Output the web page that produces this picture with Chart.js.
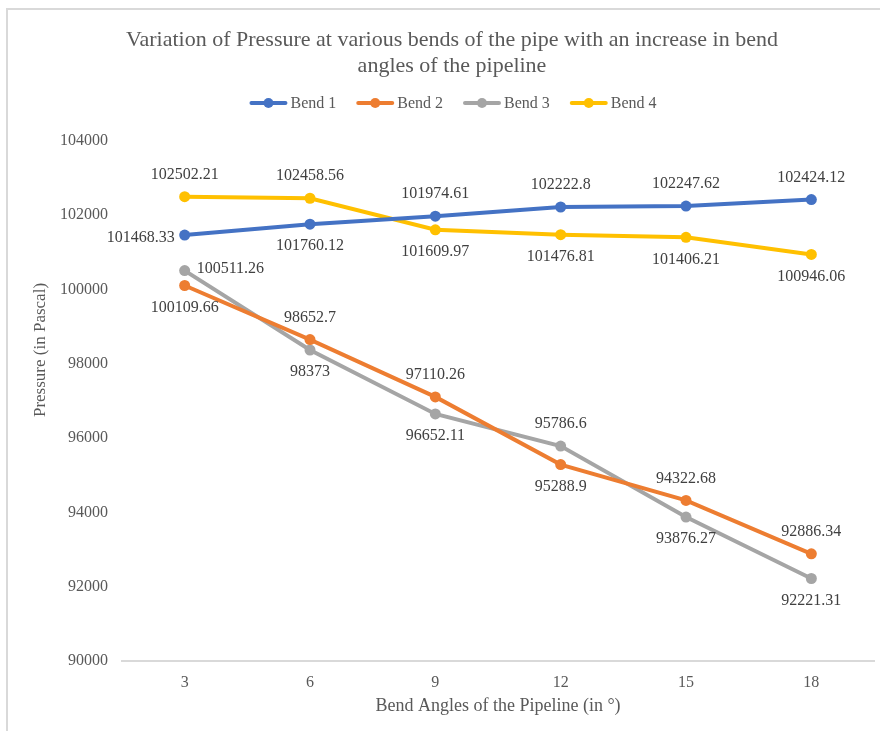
<!DOCTYPE html>
<html>
<head>
<meta charset="utf-8">
<script src="https://cdn.jsdelivr.net/npm/chart.js@4/dist/chart.umd.min.js"></script>
<style>
  html, body { margin:0; padding:0; background:#fff; }
  #wrap { position:relative; width:880px; height:731px; }
  #frame { position:absolute; left:6px; top:8px; right:0; bottom:0; border-left:2px solid #d9d9d9; border-top:2px solid #d9d9d9; pointer-events:none; }
</style>
</head>
<body>
<div id="wrap">
  <canvas id="c" width="880" height="731"></canvas>
  <div id="frame"></div>
</div>
<script>
const categories = ['3', '6', '9', '12', '15', '18'];
const bend1 = [101468.33, 101760.12, 101974.61, 102222.8, 102247.62, 102424.12];
const bend2 = [100109.66, 98652.7, 97110.26, 95288.9, 94322.68, 92886.34];
const bend3 = [100511.26, 98373, 96652.11, 95786.6, 93876.27, 92221.31];
const bend4 = [102502.21, 102458.56, 101609.97, 101476.81, 101406.21, 100946.06];
const seriesNames = ['Bend 1', 'Bend 2', 'Bend 3', 'Bend 4'];
const yTicks = [90000, 92000, 94000, 96000, 98000, 100000, 102000, 104000];
const titleLines = ['Variation of Pressure at various bends of the pipe with an increase in bend', 'angles of the pipeline'];
const xTitle = 'Bend Angles of the Pipeline (in \u00B0)';
const yTitle = 'Pressure (in Pascal)';

// label placement (style)
const labelPlacement = [
  ['left', 'below', 'above', 'above', 'above', 'above'],
  ['below', 'above', 'above', 'below', 'above', 'above'],
  ['right', 'below', 'below', 'above', 'below', 'below'],
  ['above', 'above', 'below', 'below', 'below', 'below']
];
const colors = ['#4472C4', '#ED7D31', '#A5A5A5', '#FFC000'];
const FONT = '"Liberation Serif", "Times New Roman", serif';

const seriesData = [bend1, bend2, bend3, bend4];

const labelPlugin = {
  id: 'customLabels',
  afterDatasetsDraw(chart) {
    const ctx = chart.ctx;
    ctx.save();
    ctx.font = '16px ' + FONT;
    ctx.fillStyle = '#404040';
    chart.data.datasets.forEach((ds, i) => {
      const meta = chart.getDatasetMeta(i);
      meta.data.forEach((pt, j) => {
        const txt = String(ds.data[j]);
        const pos = labelPlacement[i][j];
        let x = pt.x, y = pt.y;
        ctx.textBaseline = 'middle';
        if (pos === 'above') { ctx.textAlign = 'center'; y -= 22; }
        else if (pos === 'below') { ctx.textAlign = 'center'; y += 22; }
        else if (pos === 'left') { ctx.textAlign = 'right'; x -= 10; y += 3; }
        else { ctx.textAlign = 'left'; x += 12; y -= 2; }
        ctx.fillText(txt, x, y);
      });
    });
    ctx.restore();
  },
  afterDraw(chart) {
    const ctx = chart.ctx;
    ctx.save();
    // title
    ctx.fillStyle = '#595959';
    ctx.font = '22px ' + FONT;
    ctx.textAlign = 'center';
    ctx.textBaseline = 'middle';
    ctx.fillText(titleLines[0], 452, 40);
    ctx.fillText(titleLines[1], 452, 66);
    // y axis title
    ctx.save();
    ctx.font = '17px ' + FONT;
    ctx.translate(41, 350);
    ctx.rotate(-Math.PI / 2);
    ctx.fillText(yTitle, 0, 0);
    ctx.restore();
    // legend
    ctx.font = '16px ' + FONT;
    ctx.textAlign = 'left';
    const lineLen = 38, gap = 3, itemGap = 20;
    let widths = seriesNames.map(n => lineLen + gap + ctx.measureText(n).width);
    let total = widths.reduce((a, b) => a + b, 0) + itemGap * (seriesNames.length - 1);
    let x = 453 - total / 2;
    const ly = 103;
    seriesNames.forEach((n, i) => {
      ctx.strokeStyle = colors[i];
      ctx.lineWidth = 4;
      ctx.lineCap = 'round';
      ctx.beginPath();
      ctx.moveTo(x + 2, ly);
      ctx.lineTo(x + lineLen - 2, ly);
      ctx.stroke();
      ctx.fillStyle = colors[i];
      ctx.beginPath();
      ctx.arc(x + lineLen / 2, ly, 5, 0, Math.PI * 2);
      ctx.fill();
      ctx.fillStyle = '#595959';
      ctx.fillText(n, x + lineLen + gap, ly + 1);
      x += widths[i] + itemGap;
    });
    ctx.restore();
  }
};

new Chart(document.getElementById('c'), {
  type: 'line',
  data: {
    labels: categories,
    datasets: seriesData.map((d, i) => ({
      label: seriesNames[i],
      data: d,
      borderColor: colors[i],
      backgroundColor: colors[i],
      borderWidth: 4,
      pointRadius: 5.5,
      pointHoverRadius: 5.5,
      pointBackgroundColor: colors[i],
      pointBorderWidth: 0,
      tension: 0,
      fill: false
    }))
  },
  options: {
    responsive: false,
    animation: false,
    devicePixelRatio: 1,
    layout: { padding: { top: 141, left: 54, right: 6, bottom: 0 } },
    plugins: {
      legend: { display: false },
      title: { display: false },
      tooltip: { enabled: false }
    },
    scales: {
      x: {
        offset: true,
        grid: { display: false, drawTicks: false },
        border: { display: true, color: '#d9d9d9', width: 2 },
        ticks: { color: '#595959', font: { family: FONT, size: 16 }, padding: 12 },
        title: { display: true, text: xTitle, color: '#595959', font: { family: FONT, size: 18 }, padding: { top: 0, bottom: 14 } },
        afterFit(scale) { scale.height = 70; }
      },
      y: {
        min: 90000,
        max: 104000,
        afterBuildTicks(scale) { scale.ticks = yTicks.map(v => ({ value: v })); },
        grid: { display: false, drawTicks: false },
        border: { display: false },
        ticks: { color: '#595959', font: { family: FONT, size: 16 }, padding: 14, callback: v => String(v) },
        title: { display: false },
        afterFit(scale) { scale.width = 68; }
      }
    }
  },
  plugins: [labelPlugin]
});
</script>
</body>
</html>
